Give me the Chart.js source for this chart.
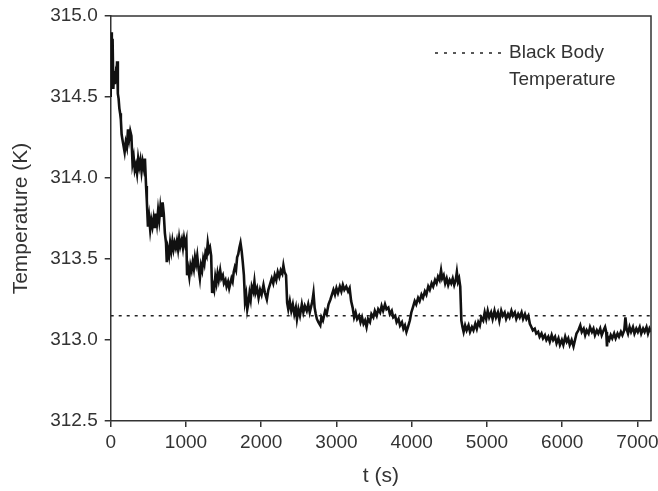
<!DOCTYPE html>
<html>
<head>
<meta charset="utf-8">
<script src="https://cdn.jsdelivr.net/npm/chart.js@4/dist/chart.umd.min.js"></script>
<style>
html,body{margin:0;padding:0;background:#fff;}
#wrap{width:658px;height:491px;position:relative;}
</style>
</head>
<body>
<div id="wrap"><canvas id="c" width="658" height="491"></canvas></div>
<script>
// time (s)
const times = [0,5,15,25,35,45,55,65,75,85,95,105,115,125,135,145,155,170,185,200,215,230,245,260,275,290,305,320,335,350,365,380,395,410,425,440,455,470,480,495,510,525,540,555,570,585,600,615,630,645,660,675,690,705,720,735,745,760,775,790,805,820,835,850,865,880,895,910,925,945,960,975,990,1005,1015,1030,1045,1060,1075,1090,1105,1120,1135,1150,1165,1185,1200,1215,1230,1245,1260,1275,1290,1305,1320,1335,1348,1360,1375,1390,1405,1420,1435,1455,1470,1490,1505,1525,1540,1560,1575,1590,1605,1620,1635,1650,1665,1680,1695,1710,1725,1740,1755,1770,1785,1800,1815,1830,1845,1860,1875,1895,1910,1925,1945,1965,1985,2005,2030,2050,2075,2095,2115,2140,2160,2180,2200,2220,2240,2260,2280,2295,2310,2330,2345,2360,2380,2400,2420,2440,2460,2475,2495,2515,2540,2560,2580,2605,2625,2645,2665,2680,2695,2710,2725,2740,2760,2785,2800,2820,2850,2870,2895,2920,2940,2960,2980,3000,3020,3045,3065,3085,3105,3130,3155,3175,3195,3215,3235,3255,3275,3300,3320,3340,3360,3380,3400,3420,3445,3465,3490,3510,3535,3555,3580,3600,3620,3645,3665,3690,3710,3735,3755,3780,3800,3825,3845,3870,3890,3910,3930,3950,3975,3995,4015,4040,4060,4085,4105,4130,4150,4175,4195,4220,4240,4265,4285,4310,4330,4350,4370,4390,4405,4425,4445,4465,4485,4505,4525,4545,4565,4585,4600,4615,4630,4645,4660,4675,4690,4710,4730,4755,4775,4800,4820,4845,4865,4885,4905,4925,4950,4970,4990,5010,5030,5055,5075,5100,5120,5145,5165,5190,5210,5235,5255,5280,5300,5325,5345,5370,5390,5415,5435,5460,5480,5505,5525,5550,5570,5590,5610,5635,5655,5680,5700,5725,5745,5770,5790,5815,5835,5860,5880,5905,5925,5950,5970,5995,6015,6040,6060,6080,6100,6125,6150,6170,6190,6215,6240,6260,6285,6305,6325,6350,6370,6395,6415,6435,6460,6480,6505,6525,6550,6570,6585,6595,6605,6625,6645,6665,6690,6710,6735,6755,6780,6800,6825,6840,6855,6875,6895,6915,6940,6960,6985,7005,7030,7050,7075,7095,7120,7140,7160,7180];
// measured temperature (K)
const temps = [314.50,314.90,314.62,314.86,314.55,314.66,314.58,314.63,314.60,314.72,314.52,314.49,314.43,314.40,314.36,314.27,314.24,314.20,314.16,314.22,314.19,314.30,314.24,314.29,314.26,314.09,314.13,314.05,314.08,314.03,314.12,314.07,314.11,314.04,314.10,314.06,314.12,313.95,313.86,313.70,313.76,313.68,313.74,313.70,313.75,313.69,313.78,313.72,313.80,313.74,313.82,313.76,313.85,313.78,313.66,313.60,313.48,313.56,313.52,313.60,313.55,313.61,313.56,313.60,313.57,313.61,313.56,313.63,313.58,313.62,313.57,313.63,313.59,313.62,313.40,313.44,313.39,313.46,313.43,313.48,313.44,313.51,313.47,313.52,313.45,313.38,313.46,313.43,313.50,313.47,313.54,313.52,313.60,313.55,313.57,313.52,313.29,313.34,313.31,313.39,313.35,313.41,313.37,313.43,313.38,313.40,313.35,313.37,313.33,313.36,313.32,313.35,313.38,313.36,313.42,313.45,313.43,313.51,313.53,313.57,313.60,313.55,313.48,313.40,313.24,313.28,313.19,313.23,313.29,313.25,313.33,313.30,313.36,313.29,313.32,313.26,313.31,313.28,313.34,313.29,313.25,313.31,313.34,313.38,313.35,313.40,313.37,313.42,313.39,313.43,313.41,313.46,313.42,313.40,313.23,313.19,313.24,313.18,313.22,313.16,313.20,313.13,313.19,313.15,313.22,313.17,313.21,313.18,313.22,313.17,313.21,313.24,313.29,313.20,313.16,313.13,313.11,313.09,313.14,313.12,313.18,313.16,313.22,313.25,313.28,313.31,313.28,313.32,313.29,313.33,313.30,313.34,313.31,313.33,313.30,313.32,313.24,313.20,313.14,313.17,313.13,313.15,313.11,313.14,313.10,313.12,313.08,313.13,313.11,313.16,313.14,313.18,313.15,313.19,313.17,313.21,313.18,313.22,313.19,313.20,313.16,313.18,313.14,313.15,313.11,313.13,313.09,313.11,313.07,313.09,313.05,313.08,313.12,313.17,313.20,313.24,313.22,313.26,313.24,313.28,313.26,313.30,313.28,313.33,313.31,313.35,313.33,313.37,313.35,313.39,313.37,313.43,313.38,313.40,313.35,313.38,313.34,313.37,313.35,313.38,313.34,313.37,313.42,313.36,313.38,313.33,313.12,313.08,313.05,313.09,313.06,313.09,313.05,313.08,313.06,313.10,313.07,313.11,313.09,313.14,313.12,313.17,313.13,313.18,313.14,313.17,313.13,313.18,313.14,313.17,313.12,313.18,313.15,313.17,313.13,313.16,313.14,313.18,313.15,313.17,313.13,313.16,313.14,313.17,313.13,313.16,313.13,313.15,313.10,313.08,313.06,313.07,313.04,313.05,313.02,313.04,313.01,313.03,313.00,313.02,312.99,313.03,313.00,313.02,312.98,313.01,312.97,313.00,312.97,313.02,312.99,313.01,312.97,313.00,312.96,313.00,313.04,313.06,313.09,313.05,313.07,313.03,313.06,313.04,313.08,313.05,313.07,313.03,313.06,313.04,313.07,313.03,313.06,313.08,313.05,312.96,313.02,313.00,313.03,313.01,313.04,313.01,313.04,313.02,313.05,313.03,313.06,313.14,313.07,313.04,313.08,313.05,313.08,313.04,313.07,313.05,313.08,313.04,313.07,313.05,313.08,313.04,313.07,313.05];
// black body reference temperature (K)
const blackBodyT = 313.15;
const blackBodySpan = [0, 7180];
const xTicks = [0,1000,2000,3000,4000,5000,6000,7000];
const yTicks = [312.5,313.0,313.5,314.0,314.5,315.0];
const legendLines = ['Black Body','Temperature'];

const FONT = '"Liberation Sans", Arial, sans-serif';
const TXT = '#333';

const framePlugin = {
  id:'frame',
  afterDraw(chart){
    const {ctx, chartArea:a} = chart;
    ctx.save();
    ctx.strokeStyle = '#333';
    ctx.lineWidth = 1.5;
    ctx.beginPath();
    ctx.moveTo(a.left, a.top); ctx.lineTo(a.right, a.top); ctx.lineTo(a.right, a.bottom);
    ctx.stroke();
    // legend
    ctx.strokeStyle = '#222';
    ctx.lineWidth = 1.5;
    ctx.setLineDash([3,6]);
    ctx.beginPath();
    ctx.moveTo(435, 53); ctx.lineTo(504, 53);
    ctx.stroke();
    ctx.setLineDash([]);
    ctx.fillStyle = TXT;
    ctx.font = '19px ' + FONT;
    ctx.textBaseline = 'middle';
    ctx.textAlign = 'left';
    ctx.fillText(legendLines[0], 509, 53);
    ctx.fillText(legendLines[1], 509, 80);
    ctx.restore();
  }
};

new Chart(document.getElementById('c'), {
  type:'line',
  data:{
    datasets:[
      {
        label:'Temperature',
        data: times.map((t,i)=>({x:t, y:temps[i]})),
        borderColor:'#111',
        borderWidth:2.6,
        pointRadius:0,
        tension:0,
        fill:false
      },
      {
        label:'Black Body Temperature',
        data: blackBodySpan.map(t=>({x:t, y:blackBodyT})),
        borderColor:'#222',
        borderWidth:1.5,
        borderDash:[3,5],
        pointRadius:0,
        fill:false
      }
    ]
  },
  options:{
    responsive:false,
    animation:false,
    devicePixelRatio:1,
    layout:{padding:{left:0,right:7,top:16,bottom:0}},
    plugins:{legend:{display:false}, tooltip:{enabled:false}},
    scales:{
      x:{
        type:'linear',
        min:0, max:7180,
        afterBuildTicks(s){ s.ticks = xTicks.map(v=>({value:v})); },
        afterFit(s){ s.height = 70; s.paddingLeft = 0; s.paddingRight = 0; },
        grid:{drawOnChartArea:false, drawTicks:true, tickLength:6, color:'#333', lineWidth:1.5},
        border:{display:true, color:'#333', width:1.5},
        ticks:{color:TXT, font:{family:FONT, size:19}, padding:4, maxRotation:0,
          callback:v=>String(v)},
        title:{display:true, text:'t (s)', color:TXT, font:{family:FONT, size:21}, padding:{top:0,bottom:2}}
      },
      y:{
        type:'linear',
        min:312.5, max:315.0,
        afterBuildTicks(s){ s.ticks = yTicks.map(v=>({value:v})); },
        afterFit(s){ s.width = 110.7; s.paddingTop = 0; s.paddingBottom = 0; },
        grid:{drawOnChartArea:false, drawTicks:true, tickLength:6, color:'#333', lineWidth:1.5},
        border:{display:true, color:'#333', width:1.5},
        ticks:{color:TXT, font:{family:FONT, size:19}, padding:7,
          callback:v=>Number(v).toFixed(1)},
        title:{display:true, text:'Temperature (K)', color:TXT, font:{family:FONT, size:21}, padding:{top:9,bottom:0}}
      }
    }
  },
  plugins:[framePlugin]
});
</script>
</body>
</html>
